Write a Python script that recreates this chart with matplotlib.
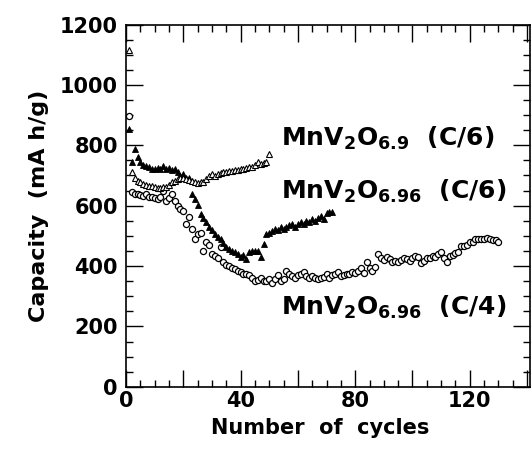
import matplotlib
matplotlib.use("Agg")
import matplotlib.pyplot as plt
from matplotlib.ticker import MultipleLocator, FuncFormatter

plt.rcParams['font.family'] = 'DejaVu Sans'
plt.rcParams['font.weight'] = 'bold'
plt.rcParams['mathtext.fontset'] = 'custom'
plt.rcParams['mathtext.rm'] = 'DejaVu Sans:bold'
plt.rcParams['mathtext.bf'] = 'DejaVu Sans:bold'
plt.rcParams['mathtext.default'] = 'bf'

# MnV2O6.96 at C/4 (open circles), one value per cycle
c4_vals = [898, 645, 640, 638, 636, 633, 640, 630, 628, 625,
           622, 630, 650, 617, 625, 640, 615, 600, 590, 583,
           539, 561, 523, 490, 506, 510, 451, 478, 470, 440,
           434, 425, 462, 412, 405, 401, 395, 390, 385, 379,
           375, 372, 371, 360, 351, 355, 362, 352, 351, 358,
           345, 357, 370, 350, 357, 385, 372, 368, 362, 370,
           375, 379, 366, 360, 368, 362, 357, 360, 365, 375,
           362, 370, 372, 379, 368, 371, 374, 374, 380, 378,
           384, 392, 378, 412, 395, 384, 398, 440, 425, 420,
           429, 422, 415, 418, 412, 420, 425, 423, 418, 428,
           434, 430, 410, 418, 425, 428, 434, 430, 440, 445,
           425, 412, 432, 438, 442, 445, 467, 468, 470, 478,
           480, 490, 488, 490, 490, 492, 489, 487, 485, 478]
c4_cycles = list(range(1, len(c4_vals) + 1))

# MnV2O6.96 at C/6 (filled triangles)
c6_96_vals = [855, 743, 788, 760, 745, 735, 730, 728, 722, 720,
              725, 722, 730, 720, 725, 718, 722, 712, 699, 705,
              690, 690, 640, 623, 603, 572, 560, 545, 528, 520,
              505, 495, 490, 475, 462, 455, 451, 445, 440, 429,
              435, 423, 445, 451, 451, 451, 429, 473, 506, 511,
              515, 523, 520, 528, 522, 530, 535, 539, 530, 540,
              545, 540, 550, 545, 556, 548, 560, 567, 555, 575,
              578, 580]
c6_96_cycles = list(range(1, len(c6_96_vals) + 1))

# MnV2O6.9 at C/6 (open triangles)
c6_9_vals = [1114, 710, 690, 683, 678, 672, 670, 666, 664, 662,
             660, 660, 662, 663, 670, 677, 682, 688, 690, 693,
             688, 685, 683, 678, 675, 677, 680, 689, 698, 706,
             699, 705, 708, 710, 712, 714, 716, 718, 718, 720,
             722, 724, 727, 728, 735, 743, 738, 742, 745, 771]
c6_9_cycles = list(range(1, len(c6_9_vals) + 1))

fig = plt.figure(figsize=(5.32, 4.54), dpi=100)
ax = fig.add_axes([0.237, 0.148, 0.759, 0.798])

ax.plot(c4_cycles, c4_vals, 'o', ms=4.4, mfc='white', mec='black', mew=0.9)
ax.plot(c6_96_cycles, c6_96_vals, '^', ms=4.6, mfc='black', mec='black', mew=0.6)
ax.plot(c6_9_cycles, c6_9_vals, '^', ms=4.2, mfc='white', mec='black', mew=0.8)

ax.set_xlim(0, 141)
ax.set_ylim(0, 1200)

ax.xaxis.set_major_locator(MultipleLocator(20))
ax.xaxis.set_minor_locator(MultipleLocator(5))
ax.yaxis.set_major_locator(MultipleLocator(200))
ax.yaxis.set_minor_locator(MultipleLocator(50))
ax.xaxis.set_major_formatter(FuncFormatter(lambda v, p: '%d' % v if v % 40 == 0 else ''))

ax.tick_params(which='both', direction='in', top=True, right=True, width=1.0)
ax.tick_params(which='major', length=12, labelsize=15, pad=6)
ax.tick_params(axis='x', which='major', pad=3)
ax.tick_params(which='minor', length=5)
for s in ax.spines.values():
    s.set_linewidth(1.2)

ax.set_xlabel('Number  of  cycles', fontsize=15, fontweight='bold', labelpad=0)
ax.xaxis.set_label_coords(0.48, -0.085)
ax.set_ylabel('Capacity  (mA h/g)', fontsize=16, fontweight='bold', labelpad=8)

ax.text(54.0, 822, r'MnV$_{2}$O$_{6.9}$  (C/6)', fontsize=18, va='center', ha='left')
ax.text(54.0, 646, r'MnV$_{2}$O$_{6.96}$  (C/6)', fontsize=18, va='center', ha='left')
ax.text(54.0, 262, r'MnV$_{2}$O$_{6.96}$  (C/4)', fontsize=18, va='center', ha='left')

fig.savefig('out.png', dpi=100)
